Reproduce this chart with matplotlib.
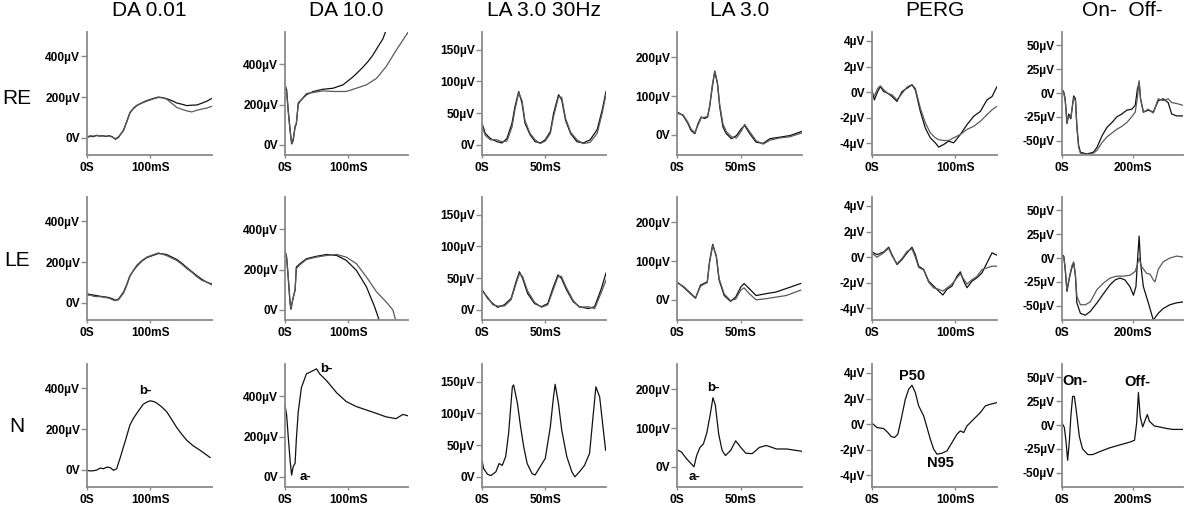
import matplotlib
matplotlib.use("Agg")
import matplotlib.pyplot as plt

plt.rcParams['font.family'] = ['Liberation Sans', 'DejaVu Sans']

columns = ['DA 0.01', 'DA 10.0', 'LA 3.0 30Hz', 'LA 3.0', 'PERG', 'On-  Off-']
rows = ['RE', 'LE', 'N']

# ---- DA 0.01 ----
da001_t = [0, 5, 10, 15, 20, 25, 30, 35, 40, 45, 50, 58, 63, 68, 74, 79, 87, 95, 104, 113, 120, 126,
           134, 142, 150, 158, 166, 174, 182, 190, 197]
da001_re_a = [0, 8, 5, 12, 8, 10, 6, 10, 5, -8, 2, 39, 80, 124, 145, 158, 172, 183, 192, 200, 197, 192,
              183, 171, 165, 158, 160, 161, 170, 180, 192]
da001_re_b = [2, 10, 8, 10, 10, 8, 8, 8, 3, -5, 5, 35, 78, 120, 148, 160, 170, 180, 190, 198, 196, 190,
              170, 149, 140, 132, 127, 135, 141, 146, 154]
da001_le_a = [45, 40, 38, 35, 32, 30, 28, 25, 20, 12, 18, 53, 90, 133, 160, 180, 205, 222, 232, 242, 240, 237,
              225, 213, 195, 173, 153, 133, 115, 100, 93]
da001_le_b = [35, 38, 32, 30, 30, 28, 25, 22, 15, 10, 15, 48, 85, 130, 162, 185, 208, 225, 235, 245, 238, 232,
              220, 208, 190, 168, 150, 128, 110, 102, 88]
da001_n_t = [0, 5, 10, 15, 21, 26, 32, 37, 42, 47, 53, 57, 61, 68, 74, 79, 84, 89, 95, 100, 106, 111, 118,
             126, 134, 142, 150, 158, 168, 179, 187, 195]
da001_n = [-3, -6, -5, -2, 8, 5, 13, 10, -3, 5, 63, 105, 145, 220, 255, 278, 300, 322, 333, 339, 335, 327, 310,
           286, 248, 208, 175, 145, 118, 96, 78, 60]

# ---- DA 10.0 ----
da10_re_ta = [0, 2.6, 5, 8, 10.5, 13, 16, 18, 21, 26, 34, 45, 60, 76, 92, 100, 108, 116, 124, 132, 139, 147,
              155, 160]
da10_re_a = [298, 273, 176, 78, 5, 21, 94, 102, 208, 224, 249, 265, 276, 281, 298, 318, 338, 362, 387, 415,
             444, 485, 525, 566]
da10_re_tb = [0, 2.6, 5, 8, 10.5, 13, 16, 18, 21, 26, 34, 45, 60, 76, 97, 113, 129, 145, 160, 176, 195]
da10_re_b = [290, 260, 170, 70, 10, 30, 85, 110, 200, 225, 255, 260, 268, 265, 265, 281, 298, 330, 387, 468, 558]
da10_le_ta = [0, 2.6, 5, 8, 9.5, 12, 16, 18, 24, 34, 50, 66, 82, 97, 113, 129, 142, 150]
da10_le_a = [295, 262, 164, 33, 3, 49, 98, 213, 230, 254, 266, 275, 270, 246, 197, 115, 16, -57]
da10_le_tb = [0, 2.6, 5, 8, 9.5, 12, 16, 18, 24, 34, 50, 66, 82, 97, 113, 129, 145, 160, 171, 176]
da10_le_b = [290, 255, 170, 40, 10, 45, 100, 205, 225, 250, 262, 270, 275, 262, 230, 164, 90, 41, 0, -57]
da10_n_t = [0, 2.6, 5, 8, 10.5, 13, 16, 18, 21, 26, 34, 45, 50, 55, 66, 82, 97, 113, 129, 145, 160, 176, 187, 195]
da10_n = [357, 306, 204, 85, 9, 51, 68, 187, 323, 443, 511, 528, 536, 511, 477, 417, 374, 349, 332, 315, 298,
          289, 310, 303]

# ---- LA 3.0 30Hz ----
flk_re_t = [0, 2.6, 6.6, 11.8, 15.8, 19.7, 23.7, 26, 29, 31.6, 34, 38, 42, 46, 50, 54, 56.6, 60.5, 63, 66, 70,
            75, 80, 85.5, 91, 95, 98]
flk_re_a = [34, 18, 10, 5, 3, 10, 34, 60, 84, 66, 34, 16, 5, 3, 8, 21, 50, 79, 71, 39, 18, 5, 3, 8, 24, 55, 84]
flk_re_b = [30, 15, 8, 8, 5, 6, 28, 55, 82, 70, 38, 18, 8, 2, 6, 18, 45, 76, 75, 42, 20, 8, 2, 4, 18, 50, 80]
flk_le_t = [0, 4.5, 8.5, 12.4, 17.7, 23, 27, 29.6, 32, 36, 41.5, 47, 52, 56, 60, 62.7, 66.7, 72, 77, 84, 89,
            94.4, 98]
flk_le_a = [32, 18, 10, 4, 8, 18, 45, 60, 50, 26, 10, 5, 10, 34, 55, 50, 32, 13, 5, 2, 5, 34, 58]
flk_le_b = [30, 20, 8, 6, 6, 16, 42, 57, 53, 30, 12, 4, 8, 30, 52, 53, 35, 15, 4, 5, 2, 28, 47]
flk_n_t = [0, 1.3, 4.4, 7, 11, 13.5, 16, 18.7, 21, 24, 25, 28, 30.5, 33, 35.7, 39.6, 42, 46, 50, 54, 56.5,
           57.8, 60.4, 63, 67, 71, 73.4, 77, 81, 85, 88, 90, 93, 95.6, 97.7]
flk_n = [26, 13, 4, 2, 8, 21, 18, 32, 68, 142, 145, 116, 79, 47, 21, 5, 3, 16, 29, 79, 126, 146, 116, 74, 32,
         8, 0, 8, 18, 37, 100, 142, 126, 79, 42]

# ---- LA 3.0 ----
la3_re_t = [0, 4.7, 8.6, 11, 14, 16.5, 19, 21.7, 24, 25.6, 27.7, 29.6, 31.7, 33.5, 36, 38.7, 42.7, 46.6, 50.5,
            53, 57, 62, 67.5, 72.8, 80.6, 88.5, 98]
la3_re_a = [59, 50, 29, 11, 3, 29, 46, 42, 46, 72, 124, 163, 132, 72, 20, 3, -10, -2, 16, 24, 3, -19, -22, -10,
            -6, -2, 9]
la3_re_b = [55, 52, 32, 15, 5, 25, 44, 45, 48, 75, 128, 165, 135, 78, 28, 8, -5, -8, 10, 27, 8, -15, -24, -14,
            -8, -5, 5]
la3_le_t = [0, 5, 10.5, 14.5, 18.4, 21, 23.7, 25.5, 28, 30.8, 33, 37, 42, 46, 50, 52.6, 56.6, 62, 70, 77.6,
            85.5, 97]
la3_le_a = [46, 33, 16, 4, 38, 42, 46, 99, 143, 112, 51, 11, -4, 7, 33, 42, 29, 11, 16, 20, 29, 42]
la3_le_b = [44, 35, 18, 5, 35, 40, 44, 95, 140, 115, 55, 15, -2, 2, 25, 31, 16, 0, 3, 7, 11, 25]
la3_n_t = [0, 3.5, 7.4, 11.4, 13.3, 15.4, 18, 20.7, 23.4, 26, 28.2, 30, 32.7, 35.4, 38, 42, 46, 50, 54, 59,
           64.6, 70, 78, 86, 98]
la3_n = [44, 38, 21, 7, 0, 29, 50, 59, 88, 134, 178, 160, 84, 42, 29, 42, 67, 50, 35, 34, 50, 55, 46, 46, 40]

# ---- PERG ----
perg_re_t = [0, 2.8, 6.8, 10, 14, 19, 24, 30, 36, 42, 48, 52, 58, 64, 70, 76, 80, 86, 92, 98, 106, 114, 122,
             130, 138, 144, 150]
perg_re_a = [0.18, -0.6, 0.05, 0.44, 0.05, -0.08, -0.34, -0.72, 0.05, 0.31, 0.57, 0.18, -1.5, -2.8, -3.56,
             -3.95, -4.28, -4.08, -3.82, -3.95, -3.3, -2.53, -1.88, -1.5, -0.6, -0.34, 0.44]
perg_re_b = [-0.1, -0.3, 0.3, 0.5, 0.2, -0.1, -0.2, -0.6, -0.1, 0.4, 0.6, 0.3, -1.24, -2.4, -3.17, -3.56,
             -3.7, -3.77, -3.77, -3.56, -3.3, -2.9, -2.66, -2.27, -1.75, -1.37, -1.1]
perg_le_t = [0, 6, 14, 20, 24, 30, 36, 42, 48, 52, 56, 62, 68, 74, 80, 85, 90, 96, 102, 106, 110, 114, 120,
             126, 132, 138, 144, 150]
perg_le_a = [0.41, 0.2, 0.41, 0.78, 0.2, -0.57, -0.18, 0.34, 0.78, 0.2, -0.7, -0.96, -1.87, -2.25, -2.64,
             -2.95, -2.5, -2.25, -1.48, -1.14, -1.87, -2.38, -1.87, -1.6, -1.22, -0.44, 0.34, 0.16]
perg_le_b = [0.3, 0.0, 0.35, 0.7, 0.1, -0.5, -0.1, 0.45, 0.65, 0.0, -0.8, -1.0, -1.95, -2.4, -2.5, -2.64,
             -2.4, -2.1, -1.6, -1.3, -1.7, -2.1, -1.75, -1.5, -0.96, -0.83, -0.7, -0.7]
perg_n_t = [0, 6, 14, 19, 23, 27, 31, 35, 40, 44, 48, 52, 56, 62, 66, 70, 74, 78, 84, 90, 96, 102, 106, 110,
            114, 122, 130, 136, 142, 150]
perg_n = [0.08, -0.26, -0.34, -0.65, -0.96, -1.04, -0.78, 0.39, 1.95, 2.73, 3.04, 2.47, 1.43, 0.65, -0.26,
          -1.17, -1.95, -2.34, -2.26, -2.08, -1.43, -0.78, -0.52, -0.65, -0.13, 0.39, 0.91, 1.43, 1.56, 1.69]

# ---- On- Off- ----
onoff_re_t = [0, 5, 9, 14, 19, 25, 33, 38, 42, 47, 52, 70, 89, 99, 113, 127, 141, 155, 169, 183, 197, 207,
              213, 218, 222, 230, 244, 258, 272, 286, 300, 310, 324, 343]
onoff_re_a = [4, 1, -6, -32, -22, -27, -3, -6, -34, -55, -62, -64, -62, -57, -45, -36, -31, -25, -22, -18, -17,
              -13, 4, 11, -6, -20, -18, -20, -8, -6, -10, -22, -24, -24]
onoff_re_b = [3, 0, -8, -30, -25, -25, -5, -8, -36, -57, -63, -65, -63, -60, -52, -46, -42, -38, -35, -31, -25,
              -20, -5, 13, -6, -20, -17, -21, -6, -8, -6, -10, -11, -13]
onoff_le_ta = [0, 5, 9, 14, 22, 28, 33, 38, 42, 52, 66, 80, 99, 118, 136, 150, 164, 178, 192, 202, 209, 213,
               218, 222, 230, 244, 258, 272, 286, 305, 324, 343]
onoff_le_a = [3.5, 2, -12, -35, -19, -10, -5, -19, -47, -58, -60, -56, -47, -37, -28, -23, -21, -23, -30, -39,
              -30, -5, 23, -5, -30, -47, -65, -58, -53, -49, -47, -46]
onoff_le_tb = [0, 5, 9, 14, 22, 28, 33, 38, 42, 52, 66, 80, 99, 118, 136, 155, 174, 192, 207, 213, 218, 225,
               239, 249, 258, 263, 272, 286, 305, 324, 343]
onoff_le_b = [3, 1, -10, -33, -18, -8, -4, -18, -40, -49, -49, -46, -33, -26, -21, -19, -19, -18, -14, -7, 0,
              -9, -16, -17, -23, -25, -12, -4, 0, 2, 1]
onoff_n_t = [0, 6.6, 11, 16, 21, 25, 30, 35, 40, 49, 58, 73, 87, 106, 134, 162, 191, 205, 211, 216, 221, 228,
             241, 247, 261, 275, 294, 313, 342]
onoff_n = [2, -2.5, -16, -37, -16, 9, 30, 30, 16, -12, -25, -31, -31, -28, -24, -21, -18, -16, 2, 34, 9, -2,
           11, 4, -1, -2, -3.5, -4.6, -4.6]

# ticks per column
uv200 = ([0, 200, 400], ['0V', '200µV', '400µV'])
yticks = [
    uv200,
    uv200,
    ([0, 50, 100, 150], ['0V', '50µV', '100µV', '150µV']),
    ([0, 100, 200], ['0V', '100µV', '200µV']),
    ([-4, -2, 0, 2, 4], ['-4µV', '-2µV', '0V', '2µV', '4µV']),
    ([-50, -25, 0, 25, 50], ['-50µV', '-25µV', '0V', '25µV', '50µV']),
]
xticks = [
    ([0, 100], ['0S', '100mS']),
    ([0, 100], ['0S', '100mS']),
    ([0, 50], ['0S', '50mS']),
    ([0, 50], ['0S', '50mS']),
    ([0, 100], ['0S', '100mS']),
    ([0, 200], ['0S', '200mS']),
]
xlims = [(0, 198), (0, 195), (0, 98), (0, 98), (0, 150), (0, 342)]
ylims = [(-85, 520), (-50, 560), (-16, 178), (-52, 265), (-4.9, 4.7), (-65, 64)]

# traces: panel (row, col) -> list of (t, v)
traces = {
    (0, 0): [(da001_t, da001_re_a), (da001_t, da001_re_b)],
    (1, 0): [(da001_t, da001_le_a), (da001_t, da001_le_b)],
    (2, 0): [(da001_n_t, da001_n)],
    (0, 1): [(da10_re_ta, da10_re_a), (da10_re_tb, da10_re_b)],
    (1, 1): [(da10_le_ta, da10_le_a), (da10_le_tb, da10_le_b)],
    (2, 1): [(da10_n_t, da10_n)],
    (0, 2): [(flk_re_t, flk_re_a), (flk_re_t, flk_re_b)],
    (1, 2): [(flk_le_t, flk_le_a), (flk_le_t, flk_le_b)],
    (2, 2): [(flk_n_t, flk_n)],
    (0, 3): [(la3_re_t, la3_re_a), (la3_re_t, la3_re_b)],
    (1, 3): [(la3_le_t, la3_le_a), (la3_le_t, la3_le_b)],
    (2, 3): [(la3_n_t, la3_n)],
    (0, 4): [(perg_re_t, perg_re_a), (perg_re_t, perg_re_b)],
    (1, 4): [(perg_le_t, perg_le_a), (perg_le_t, perg_le_b)],
    (2, 4): [(perg_n_t, perg_n)],
    (0, 5): [(onoff_re_t, onoff_re_a), (onoff_re_t, onoff_re_b)],
    (1, 5): [(onoff_le_ta, onoff_le_a), (onoff_le_tb, onoff_le_b)],
    (2, 5): [(onoff_n_t, onoff_n)],
}

# peak labels on the normal row: (col, text, t, v, size)
peak_labels = [
    (0, 'b-', 92, 385, 9.5),
    (1, 'b-', 66, 536, 9.5),
    (1, 'a-', 32, 0, 9.5),
    (3, 'b-', 28.7, 202, 9.5),
    (3, 'a-', 14, -25, 9.5),
    (4, 'P50', 48, 3.77, 10.5),
    (4, 'N95', 82, -3.0, 10.5),
    (5, 'On-', 38, 46, 10.5),
    (5, 'Off-', 214, 45, 10.5),
]

W, H = 1185, 514
col_px = [(87, 212), (285, 408), (482, 606), (677, 802), (872, 997), (1062, 1183)]
row_px = [(32, 155), (197, 320), (364, 487)]
row_label_y = [98, 260, 427]

fig = plt.figure(figsize=(W / 100, H / 100), dpi=100)
axes = {}
for r, (y0, y1) in enumerate(row_px):
    for c, (x0, x1) in enumerate(col_px):
        ax = fig.add_axes([x0 / W, 1 - y1 / H, (x1 - x0) / W, (y1 - y0) / H])
        axes[(r, c)] = ax
        colors = ['#111111', '#5a5a5a']
        for k, (t, v) in enumerate(traces[(r, c)]):
            ax.plot(t, v, color=colors[k], lw=0.9)
        ax.set_xlim(*xlims[c])
        ax.set_ylim(*ylims[c])
        ax.set_yticks(yticks[c][0])
        ax.set_yticklabels(yticks[c][1])
        ax.set_xticks(xticks[c][0])
        ax.set_xticklabels(xticks[c][1])
        for s in ['top', 'right']:
            ax.spines[s].set_visible(False)
        for s in ['left', 'bottom']:
            ax.spines[s].set_color('#8a8a8a')
            ax.spines[s].set_linewidth(1.3)
        ax.tick_params(axis='y', length=4, width=1, color='#8a8a8a', pad=1, labelsize=8.6)
        ax.tick_params(axis='x', length=2, width=1, color='#8a8a8a', pad=3.2, labelsize=8.6)
        for lab in ax.get_xticklabels() + ax.get_yticklabels():
            lab.set_fontweight('bold')
        ax.patch.set_alpha(0)

for c, name in enumerate(columns):
    x0, x1 = col_px[c]
    fig.text((x0 + x1) / 2 / W, 1 - 11 / H, name, ha='center', va='center', fontsize=15)

for r, name in enumerate(rows):
    fig.text(17 / W, 1 - row_label_y[r] / H, name, ha='center', va='center', fontsize=15)

for c, txt, t, v, fs in peak_labels:
    axes[(2, c)].text(t, v, txt, ha='center', va='center', fontsize=fs, fontweight='bold')

fig.savefig('out.png', dpi=100)
